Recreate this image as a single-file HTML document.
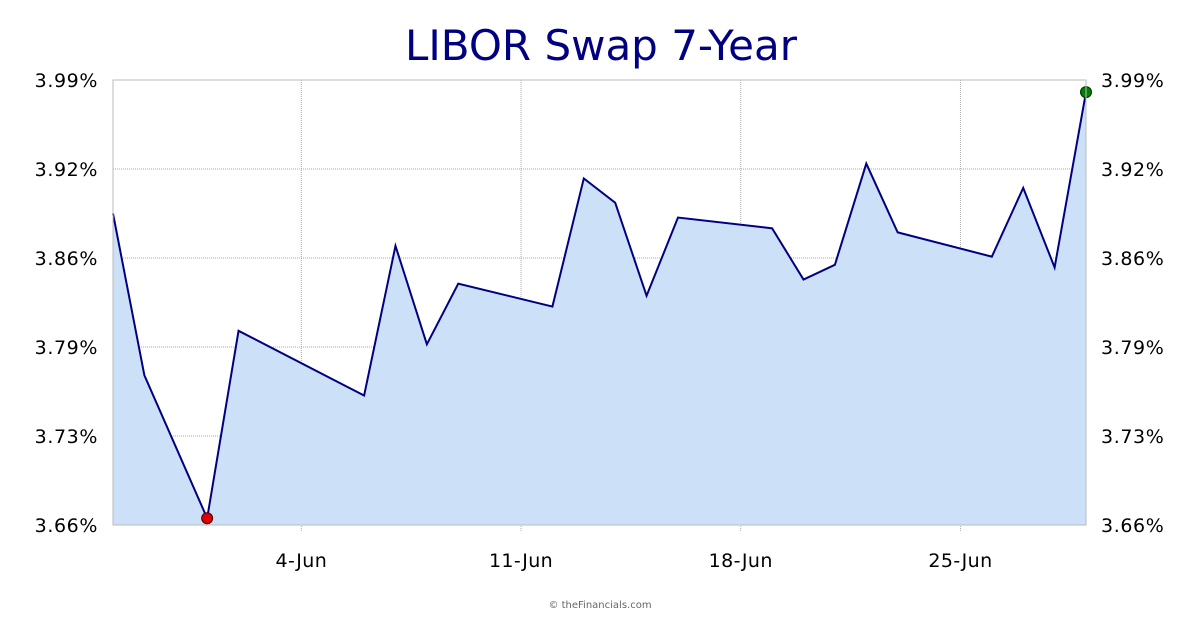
<!DOCTYPE html>
<html><head><meta charset="utf-8"><style>
html,body{margin:0;padding:0;background:#fff;}
svg{display:block;font-family:"DejaVu Sans","Liberation Sans",sans-serif;}
</style></head><body>
<svg id="chart" width="1200" height="630">
<text x="601" y="60" text-anchor="middle" font-size="42" fill="#000080">LIBOR Swap 7-Year</text>
<g id="grid"></g>
<g id="series"></g>
<g id="axes"></g>
<text x="600" y="608" text-anchor="middle" font-size="10" fill="#666">© theFinancials.com</text>
</svg>
<script>
const dayIndex=[0,1,3,4,8,9,10,11,14,15,16,17,18,21,22,23,24,25,28,29,30,31];
const values=[3.891,3.771,3.665,3.804,3.756,3.867,3.794,3.839,3.822,3.917,3.899,3.830,3.888,3.880,3.842,3.853,3.928,3.877,3.859,3.910,3.851,3.981];
const yTicks=[3.66,3.726,3.792,3.858,3.924,3.99];
const yTickLabels=["3.66%","3.73%","3.79%","3.86%","3.92%","3.99%"];
const xTickDays=[6,13,20,27];
const xTickLabels=["4-Jun","11-Jun","18-Jun","25-Jun"];
const L=113,R=1086,T=80,B=525,yMin=3.66,yMax=3.99,dMax=31;
const NS="http://www.w3.org/2000/svg";
const xs=d=>L+(R-L)*d/dMax, ys=v=>B-(B-T)*(v-yMin)/(yMax-yMin);
function mk(tag,attrs,parent){const e=document.createElementNS(NS,tag);for(const k in attrs)e.setAttribute(k,attrs[k]);parent.appendChild(e);return e;}
const grid=document.getElementById('grid'),series=document.getElementById('series'),axes=document.getElementById('axes');
yTicks.forEach((v,i)=>{
  const y=ys(v);
  const g=mk('line',{x1:L,x2:R,y1:y,y2:y,stroke:'#aaa','stroke-dasharray':'1,1'},grid);
  
  
  const t1=mk('text',{x:L-15,y:y+7,'text-anchor':'end','font-size':19,'letter-spacing':0.6,fill:'#000'},axes);t1.textContent=yTickLabels[i];
  
  
  const t2=mk('text',{x:R+15,y:y+7,'text-anchor':'start','font-size':19,'letter-spacing':0.6,fill:'#000'},axes);t2.textContent=yTickLabels[i];
  
  
});
xTickDays.forEach((d,i)=>{
  const x=xs(d);
  const g=mk('line',{x1:x,x2:x,y1:T,y2:B+6,stroke:'#aaa','stroke-dasharray':'1,1'},grid);
  
  
  const t=mk('text',{x:x,y:B+42,'text-anchor':'middle','font-size':19,'letter-spacing':0.4,fill:'#000'},axes);t.textContent=xTickLabels[i];
  
  
});
const pts=values.map((v,i)=>[xs(dayIndex[i]),ys(v)]);
const area=mk('path',{d:'M'+pts[0][0]+','+B+' L'+pts.map(p=>p.join(',')).join(' L')+' L'+pts[pts.length-1][0]+','+B+' Z',fill:'#cce0f7'},series);


const line=mk('polyline',{points:pts.map(p=>p.join(',')).join(' '),fill:'none',stroke:'#000080','stroke-width':2},series);


const frame=mk('rect',{x:L,y:T,width:R-L,height:B-T,fill:'none',stroke:'#bbb'},axes);


let mi=0,ma=0;values.forEach((v,i)=>{if(v<values[mi])mi=i;if(v>values[ma])ma=i;});
const lo=mk('circle',{cx:pts[mi][0],cy:pts[mi][1],r:5.5,fill:'#e00000',stroke:'#400','stroke-width':1},series);


const hi=mk('circle',{cx:pts[ma][0],cy:pts[ma][1],r:5.5,fill:'#008000',stroke:'#030','stroke-width':1},series);


</script>
</body></html>
